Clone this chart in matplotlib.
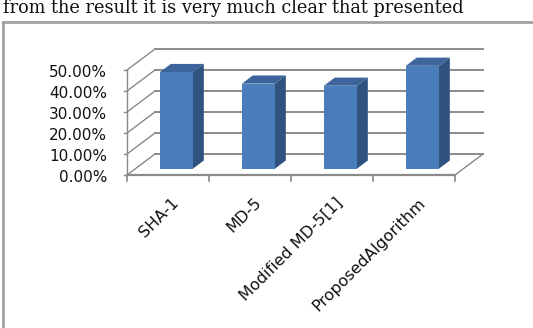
import matplotlib
matplotlib.use("Agg")
import matplotlib.pyplot as plt
from matplotlib.patches import Polygon
from matplotlib.lines import Line2D

categories = ["SHA-1", "MD-5", "Modified MD-5[1]", "ProposedAlgorithm"]
values = [0.46, 0.405, 0.395, 0.49]
ticks = [0.0, 0.1, 0.2, 0.3, 0.4, 0.5]
tick_labels = ["0.00%", "10.00%", "20.00%", "30.00%", "40.00%", "50.00%"]
caption = "from the result it is very much clear that presented"

W, H = 533, 328
fig = plt.figure(figsize=(W / 100, H / 100), dpi=100)
ax = fig.add_axes([0, 0, 1, 1])
ax.set_axis_off()

# front axis: categories 0..4 -> px 127..455, values 0..0.5 -> px 175..70
x0, cw = 127, 82
y0, vs = 175, 210
ax.set_xlim(-x0 / cw, (W - x0) / cw)
ax.set_ylim((y0 - H) / vs, y0 / vs)

# oblique depth: back wall is 28 px right, 21 px up
DX, DY = 28 / cw, 21 / vs


def sh(c, v, d):
    return (c + DX * d, v + DY * d)


grid = "#8a8a8a"
n = len(categories)

# back wall + left wall lines
for t in ticks:
    p0, p1 = sh(0, t, 1), sh(n, t, 1)
    ax.plot([p0[0], p1[0]], [p0[1], p1[1]], color=grid, lw=1.4, zorder=1)
    ax.plot([0, p0[0]], [t, p0[1]], color=grid, lw=1.0, zorder=1)
    ax.plot([-3 / cw, 0], [t, t], color=grid, lw=1.0, zorder=1)

# floor
pr = sh(n, 0, 1)
ax.plot([n, pr[0]], [0, pr[1]], color=grid, lw=1.0, zorder=1)
ax.plot([0, n], [0, 0], color=grid, lw=1.6, zorder=1)
ax.plot([0, 0], [0, ticks[-1]], color=grid, lw=1.0, zorder=1)
for i in range(n + 1):
    ax.plot([i, i], [0, -6 / vs], color=grid, lw=1.2, zorder=1)

# y labels
for t, lab in zip(ticks, tick_labels):
    ax.text(-20 / cw, t - 0.01, lab, ha="right", va="center", fontsize=11,
            family="DejaVu Sans", color="#111111")

# bars
front, side, top = "#4a7ebb", "#30527f", "#3d659b"
w = 33 / cw
d0, d1 = 0.3, 0.69
for i, v in enumerate(values):
    cl = i + 0.5 - w / 2
    cr = i + 0.5 + w / 2
    ax.add_patch(Polygon([sh(cr, 0, d0), sh(cr, 0, d1), sh(cr, v, d1), sh(cr, v, d0)],
                         closed=True, facecolor=side, edgecolor="none", zorder=3))
    ax.add_patch(Polygon([sh(cl, v, d0), sh(cr, v, d0), sh(cr, v, d1), sh(cl, v, d1)],
                         closed=True, facecolor=top, edgecolor="none", zorder=3))
    ax.add_patch(Polygon([sh(cl, 0, d0), sh(cr, 0, d0), sh(cr, v, d0), sh(cl, v, d0)],
                         closed=True, facecolor=front, edgecolor="none", zorder=4))

# x labels
for i, lab in enumerate(categories):
    ax.text(i + 0.54, -0.095, lab, rotation=45, rotation_mode="anchor",
            ha="right", va="top", fontsize=11.5, family="DejaVu Sans",
            color="#111111")

# outer chart frame (only left and top edges visible)
fig.add_artist(Line2D([3 / W, 3 / W], [0, 1 - 22 / H], color="#a0a0a0", lw=2))
fig.add_artist(Line2D([3 / W, 1], [1 - 22 / H, 1 - 22 / H], color="#a0a0a0", lw=2))

fig.text(3 / W, 1 - 13 / H, caption, ha="left", va="baseline", fontsize=12.8,
         family="DejaVu Serif", color="#111111")

fig.savefig("out.png", dpi=100)
